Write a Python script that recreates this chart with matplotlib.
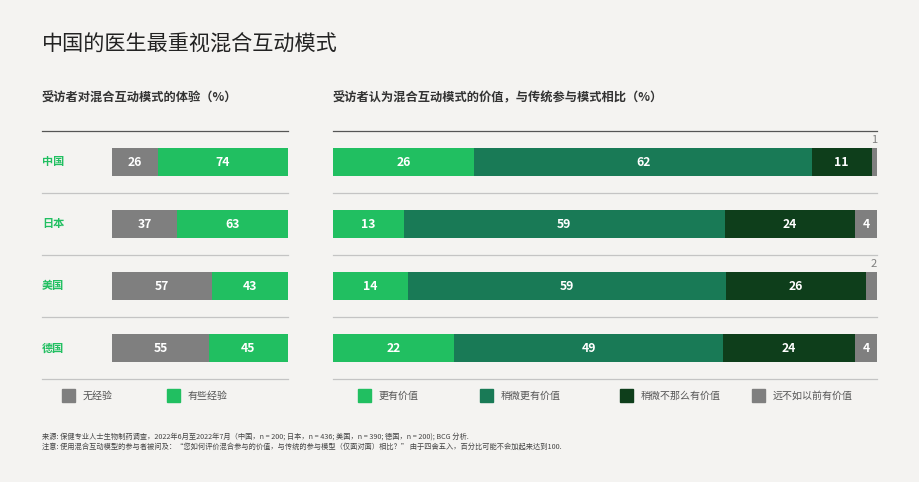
import matplotlib.pyplot as plt
import numpy as np
from matplotlib.lines import Line2D

plt.rcParams['font.family'] = ['Noto Sans CJK SC', 'DejaVu Sans']

countries = ['中国', '日本', '美国', '德国']

# left panel: experience with hybrid engagement (%)
exp_labels = ['无经验', '有些经验']
no_exp = [26, 37, 57, 55]
some_exp = [74, 63, 43, 45]

# right panel: value vs traditional engagement (%)
val_labels = ['更有价值', '稍微更有价值', '稍微不那么有价值', '远不如以前有价值']
more_val = [26, 13, 14, 22]
slightly_more = [62, 59, 59, 49]
slightly_less = [11, 24, 26, 24]
much_less = [1, 4, 2, 4]

title = '中国的医生最重视混合互动模式'
left_title = '受访者对混合互动模式的体验（%）'
right_title = '受访者认为混合互动模式的价值，与传统参与模式相比（%）'
note1 = '来源: 保健专业人士生物制药调查，2022年6月至2022年7月（中国，n = 200; 日本，n = 436; 美国，n = 390; 德国，n = 200); BCG 分析.'
note2 = '注意: 使用混合互动模型的参与者被问及：“您如何评价混合参与的价值，与传统的参与模型（仅面对面）相比？” 由于四舍五入，百分比可能不会加起来达到100.'

BG = '#F4F3F1'
GREEN = '#21BF61'
MID = '#197A56'
DARK = '#0E3E1B'
GREY = '#7F7F7F'

W, H = 920, 482
fig = plt.figure(figsize=(9.2, 4.82), dpi=100, facecolor=BG)


def px_axes(x0, x1, y0, y1):
    return fig.add_axes([x0 / W, 1 - y1 / H, (x1 - x0) / W, (y1 - y0) / H])


def hline(x0, x1, y, color, lw):
    fig.add_artist(Line2D([x0 / W, x1 / W], [1 - y / H, 1 - y / H],
                          color=color, lw=lw, transform=fig.transFigure))


def stacked(ax, series, colors):
    y = np.arange(len(countries))
    data = np.array(series, dtype=float)
    norm = data / data.sum(axis=0) * 100
    left = np.zeros(len(countries))
    for vals, shown, c in zip(norm, data, colors):
        ax.barh(y, vals, left=left, height=0.45, color=c, edgecolor='none')
        for i in range(len(countries)):
            if shown[i] < 3:
                # too thin for a label inside: put it above the bar end
                ax.text(100, y[i] - 0.27, f'{int(shown[i])}', ha='right', va='bottom',
                        color=GREY, fontsize=8)
            else:
                ax.text(left[i] + vals[i] / 2, y[i], f'{int(shown[i])}', ha='center',
                        va='center', color='white', fontsize=8.8, fontweight='bold')
        left += vals
    ax.set_xlim(0, 100)
    ax.set_ylim(len(countries) - 0.5, -0.5)
    ax.set_axis_off()


ax_l = px_axes(112, 288, 131, 379)
stacked(ax_l, [no_exp, some_exp], [GREY, GREEN])

ax_r = px_axes(333, 877, 131, 379)
stacked(ax_r, [more_val, slightly_more, slightly_less, much_less],
        [GREEN, MID, DARK, GREY])

# row labels
for i, c in enumerate(countries):
    fig.text(42 / W, 1 - (162 + 62 * i) / H, c, color=GREEN, fontsize=8,
             fontweight='bold', va='center', ha='left')

# rules
for (x0, x1) in [(42, 288), (333, 877)]:
    hline(x0, x1, 131, '#555555', 0.9)
    for yy in [193, 255, 317, 379]:
        hline(x0, x1, yy, '#C4C4C4', 0.9)

# titles
fig.text(42 / W, 1 - 45 / H, title, fontsize=15.2, color='#222222', va='center')
fig.text(42 / W, 1 - 98 / H, left_title, fontsize=8.8, fontweight='bold',
         color='#333333', va='center')
fig.text(333 / W, 1 - 98 / H, right_title, fontsize=8.8, fontweight='bold',
         color='#333333', va='center')

# legends
legend_items = [(62, GREY, exp_labels[0]), (167, GREEN, exp_labels[1]),
                (358, GREEN, val_labels[0]), (480, MID, val_labels[1]),
                (620, DARK, val_labels[2]), (752, GREY, val_labels[3])]
for x, c, lab in legend_items:
    fig.patches.append(plt.Rectangle((x / W, 1 - 402 / H), 13 / W, 13 / H,
                                     color=c, transform=fig.transFigure))
    fig.text((x + 21) / W, 1 - 396 / H, lab, fontsize=7.2, color='#555555', va='center')

# notes
fig.text(42 / W, 1 - 437 / H, note1, fontsize=5.2, color='#444444', va='center')
fig.text(42 / W, 1 - 447 / H, note2, fontsize=5.2, color='#444444', va='center')

fig.savefig('out.png', dpi=100, facecolor=BG)
